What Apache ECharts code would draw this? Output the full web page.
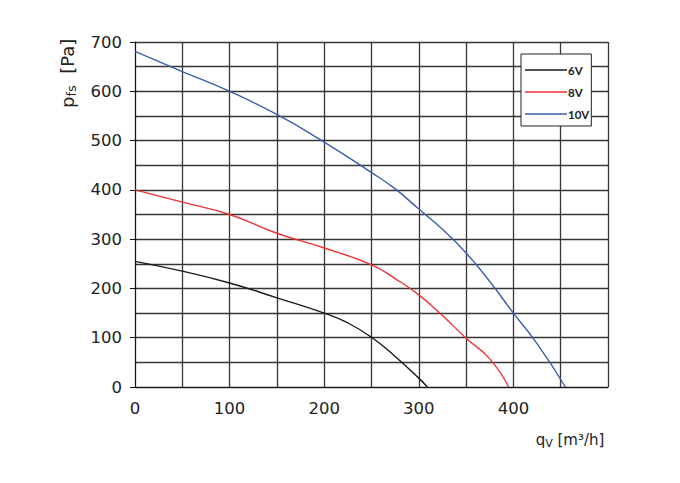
<!DOCTYPE html>
<html><head><meta charset="utf-8">
<script src="https://cdn.jsdelivr.net/npm/echarts@6/dist/echarts.min.js"></script>
<style>html,body{margin:0;padding:0;background:#fff}#c{width:680px;height:483px}</style>
</head><body><div id="c"></div>
<script>
const seriesNames = ['6V', '8V', '10V'];
const seriesColors = ['#1a1a1a', '#ee3333', '#3a5fb0'];
const flow6V = [0, 50, 100, 150, 200, 225, 250, 275, 300, 309];
const pres6V = [255, 235, 211, 181, 150, 130, 101, 62, 18, 0];
const flow8V = [0, 50, 100, 150, 200, 250, 275, 300, 325, 350, 375, 395];
const pres8V = [400, 375, 350, 312, 282, 248, 220, 187, 145, 99, 57, 0];
const flow10V = [0, 50, 100, 150, 200, 250, 275, 300, 325, 350, 375, 400, 425, 455];
const pres10V = [681, 640, 600, 553, 497, 435, 402, 361, 320, 272, 214, 150, 88, 0];
const xTickLabels = ['0', '100', '200', '300', '400', ''];
const yTickLabels = ['0', '100', '200', '300', '400', '500', '600', '700'];

const flows = [flow6V, flow8V, flow10V];
const press = [pres6V, pres8V, pres10V];
const chart = echarts.init(document.getElementById('c'), null, {renderer: 'svg'});
const font = 'DejaVu Sans';
const gridLine = {color: '#363636', width: 1.3};
chart.setOption({
  animation: false,
  textStyle: {fontFamily: font},
  grid: {left: 135, right: 72, top: 42, bottom: 96, containLabel: false},
  xAxis: {
    type: 'value', min: 0, max: 500, interval: 100,
    axisLine: {show: true, onZero: false, lineStyle: {color: '#111', width: 1}},
    axisTick: {show: false},
    axisLabel: {fontSize: 16.5, color: '#222', margin: 13, fontFamily: font,
      formatter: (v) => xTickLabels[Math.round(v / 100)]},
    splitLine: {show: true, lineStyle: gridLine},
    minorTick: {show: false, splitNumber: 2},
    minorSplitLine: {show: true, lineStyle: gridLine}
  },
  yAxis: {
    type: 'value', min: 0, max: 700, interval: 100,
    name: '{m|p}{s|fs}{m|  [Pa]}',
    nameLocation: 'end', nameRotate: 90, nameGap: -66,
    nameTextStyle: {
      padding: [0, 0, 136, 0],
      rich: {m: {fontSize: 18, color: '#222', fontFamily: font}, s: {fontSize: 13, color: '#222', fontFamily: font, padding: [9, 0, 0, 0]}}
    },
    axisLine: {show: true, lineStyle: {color: '#111', width: 1}},
    axisTick: {show: true, length: 5, lineStyle: {color: '#111'}},
    axisLabel: {fontSize: 16.5, color: '#222', margin: 13, fontFamily: font,
      formatter: (v) => yTickLabels[Math.round(v / 100)]},
    splitLine: {show: true, lineStyle: gridLine},
    minorTick: {show: false, splitNumber: 2},
    minorSplitLine: {show: true, lineStyle: gridLine}
  },
  legend: {
    show: true, orient: 'vertical', left: 521, top: 54,
    padding: [10, 2, 6, 4],
    itemGap: 10,
    itemWidth: 42, itemHeight: 14,
    borderColor: '#222', borderWidth: 1, backgroundColor: '#fff',
    icon: 'path://M0,0 L42,0 L42,1.4 L0,1.4 Z',
    textStyle: {fontSize: 11.5, fontWeight: 'bold', color: '#222', padding: [0, 0, 0, -4], fontFamily: 'Lato'},
    data: seriesNames
  },
  graphic: [
    {type: 'text', x: 570, y: 440, style: {
      rich: {m: {fontSize: 15, fill: '#222', fontFamily: font}, s: {fontSize: 11, fill: '#222', fontFamily: font, padding: [7, 0, 0, 0]}},
      text: '{m|q}{s|V}{m| [m³/h]}', align: 'center', verticalAlign: 'middle'
    }}
  ],
  series: seriesNames.map((n, i) => ({
    name: n, type: 'line', smooth: 0.5, symbol: 'none',
    lineStyle: {color: seriesColors[i], width: 1.4},
    itemStyle: {color: seriesColors[i]},
    data: flows[i].map((x, j) => [x, press[i][j]])
  }))
});
</script></body></html>
